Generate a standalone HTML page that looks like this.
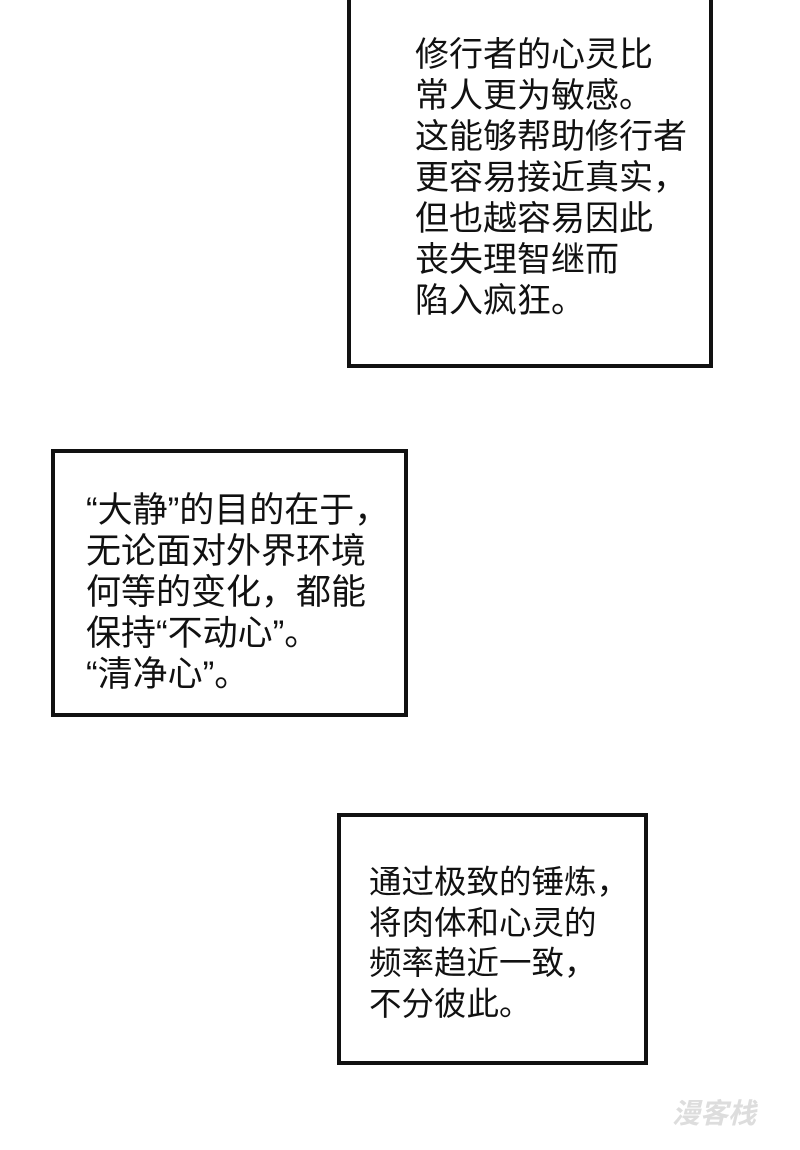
<!DOCTYPE html>
<html><head><meta charset="utf-8"><style>
body{margin:0;width:800px;height:1150px;background:#fff;position:relative;overflow:hidden;font-family:"Liberation Sans","Noto Sans CJK SC",sans-serif;color:#111}
.b{position:absolute;border:4px solid #111;box-sizing:border-box;background:#fff}
.t{position:absolute;white-space:pre;line-height:41px}
</style></head><body>
<div class="b" style="left:347px;top:-10px;width:366px;height:378px"></div>
<div class="t" style="left:415px;top:35px;font-size:34px">修行者的心灵比
常人更为敏感。
这能够帮助修行者
更容易接近真实，
但也越容易因此
丧失理智继而
陷入疯狂。</div>
<div class="b" style="left:51px;top:449px;width:357px;height:268px"></div>
<div class="t" style="left:86px;top:490px;font-size:35px">“大静”的目的在于，
无论面对外界环境
何等的变化，都能
保持“不动心”。
“清净心”。</div>
<div class="b" style="left:337px;top:813px;width:311px;height:252px"></div>
<div class="t" style="left:369px;top:862px;font-size:32.5px;line-height:40.5px">通过极致的锤炼，
将肉体和心灵的
频率趋近一致，
不分彼此。</div>
<div style="position:absolute;left:672px;top:1092px;font-size:28px;font-weight:bold;color:#ddd;font-style:italic">漫客栈</div>
</body></html>
